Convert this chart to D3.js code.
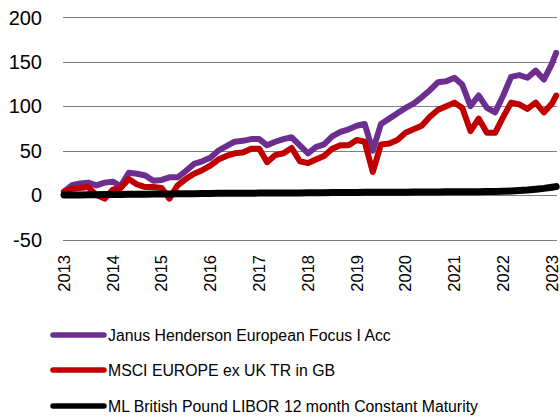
<!doctype html>
<html>
<head>
<meta charset="utf-8">
<title>Janus Henderson European Focus</title>
<script src="https://d3js.org/d3.v7.min.js"></script>
<style>
  body { margin: 0; background: #fff; }
  svg { font-family: "Liberation Sans", Arial, sans-serif; }
</style>
</head>
<body>
<div id="chart"></div>
<script>
// two-monthly observations, Jan 2013 .. Jan 2023, plus Feb 2023
var dates = ["2013-01","2013-03","2013-05","2013-07","2013-09","2013-11",
  "2014-01","2014-03","2014-05","2014-07","2014-09","2014-11",
  "2015-01","2015-03","2015-05","2015-07","2015-09","2015-11",
  "2016-01","2016-03","2016-05","2016-07","2016-09","2016-11",
  "2017-01","2017-03","2017-05","2017-07","2017-09","2017-11",
  "2018-01","2018-03","2018-05","2018-07","2018-09","2018-11",
  "2019-01","2019-03","2019-05","2019-07","2019-09","2019-11",
  "2020-01","2020-03","2020-05","2020-07","2020-09","2020-11",
  "2021-01","2021-03","2021-05","2021-07","2021-09","2021-11",
  "2022-01","2022-03","2022-05","2022-07","2022-09","2022-11",
  "2023-01","2023-02"];

var janus = [4,11,13,14,11,14, 15,10,25,24,22,16, 17,20,20,27,35,38,
  42,50,55,60,61,63, 63,56,60,63,65,56, 47,54,57,66,71,74,
  78,80,50,80,86,92, 98,103,110,118,127,128, 132,124,100,112,98,93,
  112,133,135,132,140,130, 148,160];

var msci = [4,7,8,9,0,-4, 6,8,18,12,9,9, 8,-4,11,18,24,28,
  33,40,44,47,48,52, 52,37,45,47,53,38, 36,40,44,52,56,56,
  62,60,26,57,58,62, 70,74,78,88,96,100, 104,98,72,86,70,70,
  88,104,102,97,104,93, 103,112];

var libor = [0,0.1,0.2,0.3,0.4,0.5, 0.6,0.7,0.8,0.9,1,1.1, 1.2,1.3,1.4,1.5,1.6,1.7,
  1.8,1.9,2,2,2.1,2.1, 2.2,2.2,2.3,2.3,2.4,2.4, 2.5,2.6,2.7,2.8,2.9,3,
  3,3.1,3.1,3.2,3.2,3.3, 3.3,3.4,3.4,3.5,3.5,3.6, 3.6,3.7,3.7,3.8,3.9,4,
  4.2,4.5,5,5.6,6.5,7.5, 8.8,9.5];

var seriesNames = ["Janus Henderson European Focus I Acc",
  "MSCI EUROPE ex UK TR in GB",
  "ML British Pound LIBOR 12 month Constant Maturity"];
var seriesColors = ["#6c2f8f", "#c00000", "#000000"];
var yTicks = [-50, 0, 50, 100, 150, 200];
var xTickYears = [2013,2014,2015,2016,2017,2018,2019,2020,2021,2022,2023];

var W = 560, H = 417;
var parse = d3.timeParse("%Y-%m");
var dt = dates.map(parse);

var svg = d3.select("#chart").append("svg")
  .attr("width", W).attr("height", H);

var x = d3.scaleTime()
  .domain([new Date(2013,0,1), new Date(2023,0,1)])
  .range([64, 552]);
var y = d3.scaleLinear()
  .domain([-50, 200])
  .range([239.5, 17.3]);

// gridlines
svg.append("g").selectAll("line")
  .data(yTicks).enter().append("line")
  .attr("x1", 63).attr("x2", 557)
  .attr("y1", function(d) { return Math.round(y(d)) + 0.5; })
  .attr("y2", function(d) { return Math.round(y(d)) + 0.5; })
  .attr("stroke", "#7f7f7f").attr("stroke-width", 1);

// y labels
svg.append("g").selectAll("text")
  .data(yTicks).enter().append("text")
  .attr("x", 42)
  .attr("y", function(d) { return y(d); })
  .attr("dy", "0.36em")
  .attr("text-anchor", "end")
  .style("font-size", "20px")
  .attr("fill", "#000")
  .text(function(d) { return d; });

// x labels (rotated)
svg.append("g").selectAll("text")
  .data(xTickYears).enter().append("text")
  .attr("transform", function(d) {
    return "translate(" + x(new Date(d,0,1)) + ",255) rotate(-90)";
  })
  .attr("dy", "0.36em")
  .attr("text-anchor", "end")
  .style("font-size", "16.5px")
  .attr("fill", "#000")
  .text(function(d) { return d; });

var line = d3.line()
  .x(function(d, i) { return x(dt[i]); })
  .y(function(d) { return y(d); });

var allSeries = [janus, msci, libor];
var widths = [6, 6, 7];
allSeries.forEach(function(s, k) {
  svg.append("path")
    .datum(s)
    .attr("d", line)
    .attr("fill", "none")
    .attr("stroke", seriesColors[k])
    .attr("stroke-width", widths[k])
    .attr("stroke-linejoin", "round")
    .attr("stroke-linecap", "round");
});

// legend
var legendY = [335, 370, 406];
var legend = svg.append("g").selectAll("g")
  .data(seriesNames).enter().append("g")
  .attr("transform", function(d, i) { return "translate(0," + legendY[i] + ")"; });

legend.append("line")
  .attr("x1", 53).attr("x2", 104)
  .attr("stroke", function(d, i) { return seriesColors[i]; })
  .attr("stroke-width", 5.5)
  .attr("stroke-linecap", "round");

legend.append("text")
  .attr("x", 108)
  .attr("dy", "0.36em")
  .style("font-size", "15.8px")
  .attr("fill", "#000")
  .text(function(d) { return d; });
</script>
</body>
</html>
